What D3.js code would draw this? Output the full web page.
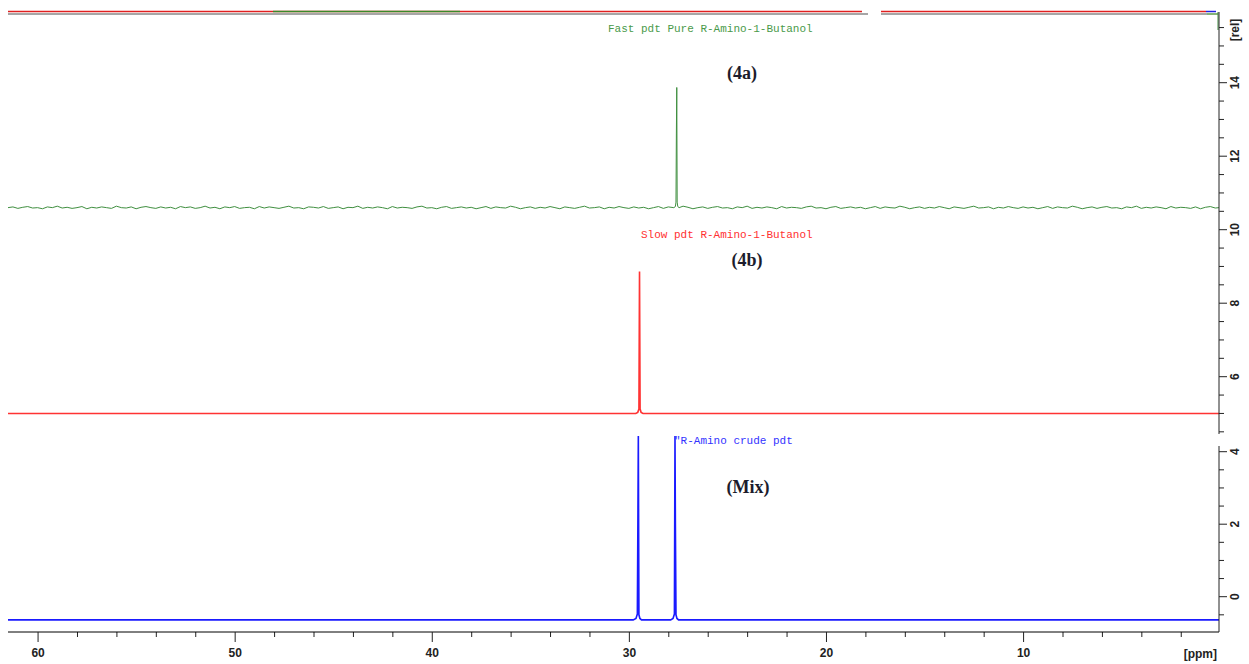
<!DOCTYPE html>
<html>
<head>
<meta charset="utf-8">
<script src="https://cdn.jsdelivr.net/npm/d3@7"></script>
<style>
  body { margin: 0; background: #fff; }
  svg { display: block; }
  .tick text { font-family: "Liberation Sans", Arial, sans-serif; font-weight: bold; font-size: 12px; fill: #222; }
</style>
</head>
<body>
<svg id="chart" width="1249" height="664"></svg>
<script>
// spectrum data, ppm / intensity [rel]
var ppmStart = 61.5;
var ppmEnd = 0.06;
var noiseStep = 0.25;

// green (4a) baseline noise, one value per 0.25 ppm from 61.5
var greenNoise = [10.60, 10.62, 10.58, 10.61, 10.63, 10.59, 10.60, 10.57, 10.62, 10.60, 10.64, 10.59,
    10.61, 10.58, 10.60, 10.63, 10.57, 10.61, 10.59, 10.62, 10.60, 10.58, 10.64, 10.60, 10.59, 10.62,
    10.57, 10.61, 10.63, 10.60, 10.58, 10.62, 10.59, 10.61, 10.57, 10.63, 10.60, 10.62, 10.58, 10.60,
    10.64, 10.59, 10.61, 10.57, 10.62, 10.60, 10.63, 10.58, 10.60, 10.61, 10.57, 10.63, 10.59, 10.62,
    10.60, 10.58, 10.61, 10.64, 10.59, 10.60, 10.57, 10.62, 10.61, 10.59, 10.63, 10.58, 10.60, 10.62,
    10.57, 10.61, 10.60, 10.64, 10.58, 10.61, 10.59, 10.62, 10.60, 10.57, 10.63, 10.59, 10.61, 10.60,
    10.58, 10.62, 10.64, 10.59, 10.60, 10.57, 10.61, 10.63, 10.58, 10.60, 10.62, 10.59, 10.61, 10.57,
    10.60, 10.63, 10.58, 10.62, 10.60, 10.59, 10.64, 10.61, 10.57, 10.60, 10.62, 10.58, 10.61, 10.59,
    10.63, 10.60, 10.57, 10.62, 10.60, 10.58, 10.61, 10.64, 10.59, 10.60, 10.62, 10.57, 10.61, 10.59,
    10.63, 10.60, 10.58, 10.62, 10.59, 10.61, 10.57, 10.60, 10.63, 10.58, 10.62, 10.60, 10.59, 10.64,
    10.61, 10.57, 10.60, 10.62, 10.58, 10.61, 10.63, 10.59, 10.60, 10.57, 10.62, 10.60, 10.64, 10.58,
    10.61, 10.59, 10.62, 10.60, 10.57, 10.63, 10.59, 10.61, 10.60, 10.58, 10.62, 10.64, 10.59, 10.60,
    10.57, 10.61, 10.63, 10.58, 10.60, 10.62, 10.59, 10.61, 10.57, 10.60, 10.63, 10.58, 10.62, 10.60,
    10.59, 10.64, 10.61, 10.57, 10.60, 10.62, 10.58, 10.61, 10.59, 10.63, 10.60, 10.57, 10.62, 10.60,
    10.58, 10.61, 10.64, 10.59, 10.60, 10.62, 10.57, 10.61, 10.59, 10.63, 10.60, 10.58, 10.62, 10.59,
    10.61, 10.57, 10.60, 10.63, 10.58, 10.62, 10.60, 10.59, 10.64, 10.61, 10.57, 10.60, 10.62, 10.58,
    10.61, 10.63, 10.59, 10.60, 10.57, 10.62, 10.60, 10.64, 10.58, 10.61, 10.59, 10.62, 10.60, 10.57,
    10.63, 10.59, 10.61, 10.60, 10.58, 10.62, 10.57, 10.61, 10.63, 10.59, 10.60, 10.58, 10.62, 10.60,
    10.64, 10.59, 10.61, 10.57, 10.60, 10.62, 10.58, 10.61, 10.60];

var greenPeak = [[27.72, 10.60], [27.64, 10.63], [27.61, 10.75], [27.59, 12.63], [27.57, 13.87],
    [27.55, 10.75], [27.52, 10.63], [27.45, 10.60]];

var redSpectrum = [[61.5, 5.0], [29.65, 5.0], [29.55, 5.03], [29.49, 5.12], [29.46, 8.86],
    [29.43, 5.12], [29.38, 5.03], [29.28, 5.0], [0.06, 5.0]];

var blueSpectrum = [[61.5, -0.64], [29.78, -0.64], [29.64, -0.6], [29.57, -0.48], [29.54, 2.32],
    [29.52, 4.43], [29.49, -0.5], [29.44, -0.6], [29.36, -0.64],
    [27.88, -0.64], [27.76, -0.6], [27.69, -0.48], [27.66, 4.43], [27.64, 2.0],
    [27.61, -0.5], [27.56, -0.6], [27.48, -0.64], [0.06, -0.64]];

var ppmLabels = [60, 50, 40, 30, 20, 10];
var ppmMinor = [2, 4, 6, 8, 12, 14, 16, 18, 22, 24, 26, 28, 32, 34, 36, 38, 42, 44, 46, 48, 52, 54, 56, 58];
var relTopLabels = [6, 8, 10, 12, 14];
var relBotLabels = [0, 2, 4];

var svg = d3.select("#chart");

var x = d3.scaleLinear().domain([ppmStart, ppmEnd]).range([8, 1219]);
// upper axis segment (4a + 4b) and lower segment (Mix)
var yTop = d3.scaleLinear().domain([6, 14]).range([376.7, 82.7]);
var yBot = d3.scaleLinear().domain([0, 4]).range([596.7, 451.7]);

// build green trace: noise + peak
var greenData = [];
greenNoise.forEach(function (v, i) {
    var p = ppmStart - i * noiseStep;
    if ((p > 27.75 || p < 27.4) && p >= ppmEnd) greenData.push([p, v]);
});
greenData = greenData.concat(greenPeak);
greenData.push([ppmEnd, 10.60]);
greenData.sort(function (a, b) { return b[0] - a[0]; });

var lineTop = d3.line().x(function (d) { return x(d[0]); }).y(function (d) { return yTop(d[1]); });
var lineBot = d3.line().x(function (d) { return x(d[0]); }).y(function (d) { return yBot(d[1]); });

svg.append("path").datum(greenData).attr("d", lineTop)
    .attr("fill", "none").attr("stroke", "#3f8f3f").attr("stroke-width", 1);
svg.append("path").datum(redSpectrum).attr("d", lineTop)
    .attr("fill", "none").attr("stroke", "#f33").attr("stroke-width", 1.6);
svg.append("path").datum(blueSpectrum).attr("d", lineBot)
    .attr("fill", "none").attr("stroke", "#1a1aff").attr("stroke-width", 1.6);

// top overview strip
var strip = svg.append("g");
strip.append("line").attr("x1", 8).attr("x2", 862).attr("y1", 11.5).attr("y2", 11.5).attr("stroke", "#e02020").attr("stroke-width", 1.5);
strip.append("line").attr("x1", 881).attr("x2", 1206).attr("y1", 11.5).attr("y2", 11.5).attr("stroke", "#e02020").attr("stroke-width", 1.5);
strip.append("line").attr("x1", 273).attr("x2", 460).attr("y1", 11.5).attr("y2", 11.5).attr("stroke", "#3a8a2a").attr("stroke-width", 1.5);
strip.append("line").attr("x1", 1206).attr("x2", 1216).attr("y1", 11.5).attr("y2", 11.5).attr("stroke", "#2020e0").attr("stroke-width", 1.5);
strip.append("line").attr("x1", 8).attr("x2", 868).attr("y1", 14).attr("y2", 14).attr("stroke", "#888").attr("stroke-width", 1.5);
strip.append("line").attr("x1", 881).attr("x2", 1207).attr("y1", 14).attr("y2", 14).attr("stroke", "#888").attr("stroke-width", 1.5);
strip.append("line").attr("x1", 1207).attr("x2", 1218).attr("y1", 14).attr("y2", 14).attr("stroke", "#5a9a4a").attr("stroke-width", 1.5);
strip.append("line").attr("x1", 1218).attr("x2", 1218).attr("y1", 12).attr("y2", 30).attr("stroke", "#3f8f3f").attr("stroke-width", 1);

// bottom ppm axis
var axisMinor = d3.axisBottom(x).tickValues(ppmMinor).tickSize(5).tickFormat("");
var axisMajor = d3.axisBottom(x).tickValues(ppmLabels).tickSize(10).tickPadding(6);
svg.append("g").attr("transform", "translate(0,632)").call(axisMinor)
    .call(function (g) { g.select(".domain").remove(); });
var gx = svg.append("g").attr("transform", "translate(0,632)").call(axisMajor);
gx.select(".domain").attr("d", "M8,0H1219");
svg.selectAll(".tick line").attr("stroke", "#222");
svg.append("text").attr("x", 1217).attr("y", 658).attr("text-anchor", "end")
    .style("font-family", "Liberation Sans, Arial, sans-serif").style("font-weight", "bold")
    .style("font-size", "12px").attr("fill", "#222").text("[ppm]");

// right rel axes
function relAxis(scale, top, bottom, labels, lo, hi) {
    var g = svg.append("g").attr("transform", "translate(1219,0)");
    g.append("line").attr("x1", 0).attr("x2", 0).attr("y1", top).attr("y2", bottom).attr("stroke", "#222");
    var minor = d3.range(lo, hi + 0.01, 0.5);
    g.selectAll(".mt").data(minor).enter().append("line")
        .attr("x1", 0).attr("y1", function (d) { return scale(d); }).attr("y2", function (d) { return scale(d); })
        .attr("x2", function (d) { return labels.indexOf(d) >= 0 ? 8 : 5; })
        .attr("stroke", "#222");
    g.selectAll(".lb").data(labels).enter().append("text")
        .attr("transform", function (d) { return "translate(20," + scale(d) + ") rotate(-90)"; })
        .attr("text-anchor", "middle")
        .style("font-family", "Liberation Sans, Arial, sans-serif").style("font-weight", "bold")
        .style("font-size", "12px").attr("fill", "#222")
        .text(function (d) { return d; });
    return g;
}
var gTop = relAxis(yTop, 12, 434, relTopLabels, 4.5, 15.5);
relAxis(yBot, 446, 632, relBotLabels, -0.5, 4);
gTop.append("text").attr("transform", "translate(20,30) rotate(-90)").attr("text-anchor", "middle")
    .style("font-family", "Liberation Sans, Arial, sans-serif").style("font-weight", "bold")
    .style("font-size", "12px").attr("fill", "#222").text("[rel]");

// spectrum titles
function mono(tx, ty, txt, col) {
    svg.append("text").attr("x", tx).attr("y", ty).text(txt)
        .style("font-family", "Liberation Mono, Courier New, monospace").style("font-size", "11px")
        .attr("fill", col);
}
mono(608, 32, "Fast pdt Pure R-Amino-1-Butanol", "#4a9a4a");
mono(641, 238, "Slow pdt R-Amino-1-Butanol", "#ff3030");
mono(674, 444, "\"R-Amino crude pdt", "#3333ff");

function tag(tx, ty, txt) {
    svg.append("text").attr("x", tx).attr("y", ty).attr("text-anchor", "middle").text(txt)
        .style("font-family", "Liberation Serif, Times New Roman, serif").style("font-weight", "bold")
        .style("font-size", "18px").attr("fill", "#1c1c2c");
}
tag(742, 79, "(4a)");
tag(747, 266, "(4b)");
tag(748, 493, "(Mix)");
</script>
</body>
</html>
